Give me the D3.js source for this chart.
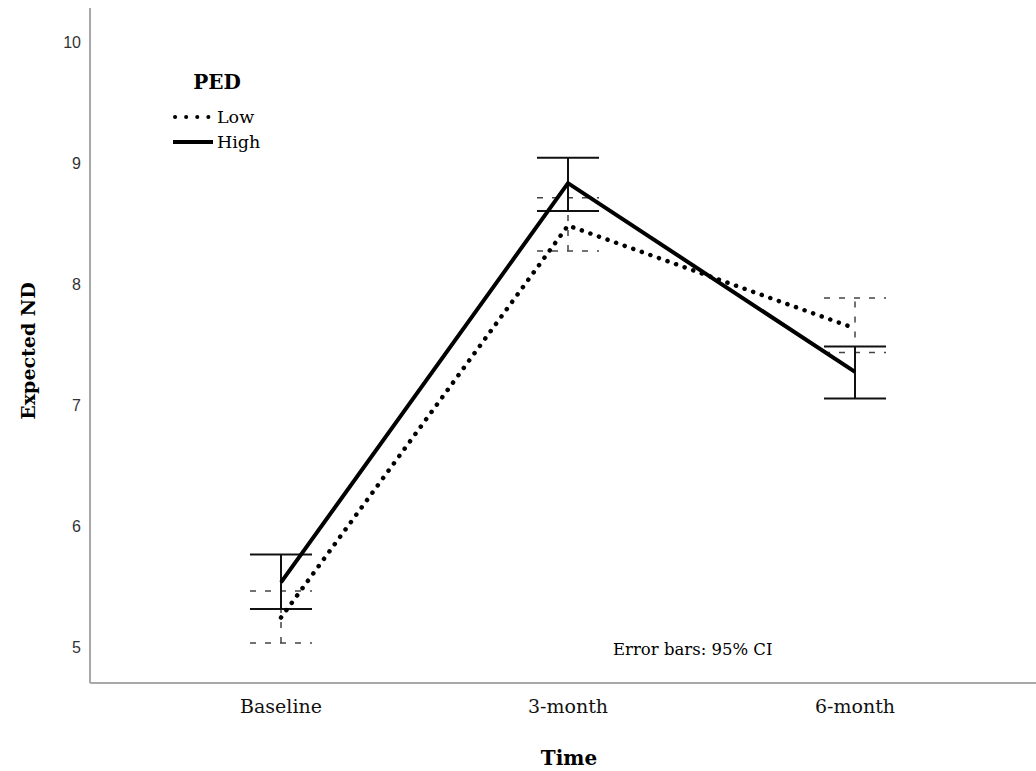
<!DOCTYPE html>
<html>
<head>
<meta charset="utf-8">
<script src="https://cdn.jsdelivr.net/npm/d3@7"></script>
<style>
  body { margin: 0; background: #fff; }
  .serif { font-family: "DejaVu Serif", "Liberation Serif", serif; }
</style>
</head>
<body>
<svg id="chart"></svg>
<script>
// Time points
const timePoints = ["Baseline", "3-month", "6-month"];

// PED Low (dotted line, dashed error bars)
const lowMean = [5.26, 8.50, 7.65];
const lowLower = [5.05, 8.29, 7.45];
const lowUpper = [5.48, 8.73, 7.90];

// PED High (solid line, solid error bars)
const highMean = [5.55, 8.85, 7.29];
const highLower = [5.33, 8.62, 7.07];
const highUpper = [5.78, 9.06, 7.50];

const yTicks = [5, 6, 7, 8, 9, 10];

const width = 1036;
const height = 771;
const axisLeft = 90;
const axisBottom = 683;
const axisTop = 8;
const capHalf = 31;

const svg = d3.select('#chart')
    .attr('width', width)
    .attr('height', height);

const x = d3.scalePoint()
    .domain(timePoints)
    .range([281, 855]);

const y = d3.scaleLinear()
    .domain([5, 10])
    .range([649, 44]);

// Axes lines
svg.append('line')
    .attr('x1', axisLeft).attr('x2', axisLeft)
    .attr('y1', axisTop).attr('y2', axisBottom)
    .attr('stroke', '#a8a8a8').attr('stroke-width', 2);

svg.append('line')
    .attr('x1', axisLeft).attr('x2', width)
    .attr('y1', axisBottom).attr('y2', axisBottom)
    .attr('stroke', '#a8a8a8').attr('stroke-width', 2);

// Y tick labels
svg.selectAll('.ytick')
    .data(yTicks)
    .enter()
    .append('text')
    .attr('class', 'ytick')
    .attr('x', 81)
    .attr('y', d => y(d))
    .attr('text-anchor', 'end')
    .attr('dominant-baseline', 'middle')
    .attr('font-family', 'Liberation Sans, Arial, sans-serif')
    .attr('font-size', 16)
    .attr('fill', '#333')
    .text(d => d);

// X tick labels
svg.selectAll('.xtick')
    .data(timePoints)
    .enter()
    .append('text')
    .attr('class', 'xtick serif')
    .attr('x', d => x(d))
    .attr('y', 713)
    .attr('text-anchor', 'middle')
    .attr('font-size', 19)
    .attr('fill', '#111')
    .text(d => d);

// Axis titles
svg.append('text')
    .attr('class', 'serif')
    .attr('x', 569)
    .attr('y', 765)
    .attr('text-anchor', 'middle')
    .attr('font-size', 20)
    .attr('font-weight', 'bold')
    .text('Time');

svg.append('text')
    .attr('class', 'serif')
    .attr('transform', 'translate(35, 351) rotate(-90)')
    .attr('text-anchor', 'middle')
    .attr('font-size', 19)
    .attr('font-weight', 'bold')
    .text('Expected ND');

// Error bars
function drawErrorBars(lower, upper, dashed, width) {
    const g = svg.append('g')
        .attr('stroke', dashed ? '#444' : '#111')
        .attr('stroke-width', width)
        .attr('fill', 'none');
    const dash = dashed ? '6,9' : null;
    timePoints.forEach((t, i) => {
        const cx = x(t);
        g.append('line')
            .attr('x1', cx).attr('x2', cx)
            .attr('y1', y(lower[i])).attr('y2', y(upper[i]))
            .attr('stroke-dasharray', dash);
        [lower[i], upper[i]].forEach(v => {
            g.append('line')
                .attr('x1', cx - capHalf).attr('x2', cx + capHalf)
                .attr('y1', y(v)).attr('y2', y(v))
                .attr('stroke-dasharray', dash);
        });
    });
}

drawErrorBars(lowLower, lowUpper, true, 1.5);
drawErrorBars(highLower, highUpper, false, 2);

const line = d3.line()
    .x((d, i) => x(timePoints[i]))
    .y(d => y(d));

// Low - dotted
svg.append('path')
    .attr('d', line(lowMean))
    .attr('fill', 'none')
    .attr('stroke', '#000')
    .attr('stroke-width', 4.5)
    .attr('stroke-linecap', 'round')
    .attr('stroke-dasharray', '0.1,9');

// High - solid
svg.append('path')
    .attr('d', line(highMean))
    .attr('fill', 'none')
    .attr('stroke', '#000')
    .attr('stroke-width', 4);

// Legend
svg.append('text')
    .attr('class', 'serif')
    .attr('x', 217)
    .attr('y', 89)
    .attr('text-anchor', 'middle')
    .attr('font-size', 20)
    .attr('font-weight', 'bold')
    .text('PED');

const legendItems = [
    { label: 'Low', dotted: true },
    { label: 'High', dotted: false }
];

legendItems.forEach((item, i) => {
    const ly = 117 + i * 25;
    svg.append('line')
        .attr('x1', item.dotted ? 175 : 173)
        .attr('x2', 213)
        .attr('y1', ly).attr('y2', ly)
        .attr('stroke', '#000')
        .attr('stroke-width', 4)
        .attr('stroke-linecap', item.dotted ? 'round' : 'butt')
        .attr('stroke-dasharray', item.dotted ? '0.1,11' : null);
    svg.append('text')
        .attr('class', 'serif')
        .attr('x', 217)
        .attr('y', ly + 6)
        .attr('font-size', 17.5)
        .text(item.label);
});

// Footnote
svg.append('text')
    .attr('class', 'serif')
    .attr('x', 613)
    .attr('y', 655)
    .attr('font-size', 16.5)
    .text('Error bars: 95% CI');
</script>
</body>
</html>
